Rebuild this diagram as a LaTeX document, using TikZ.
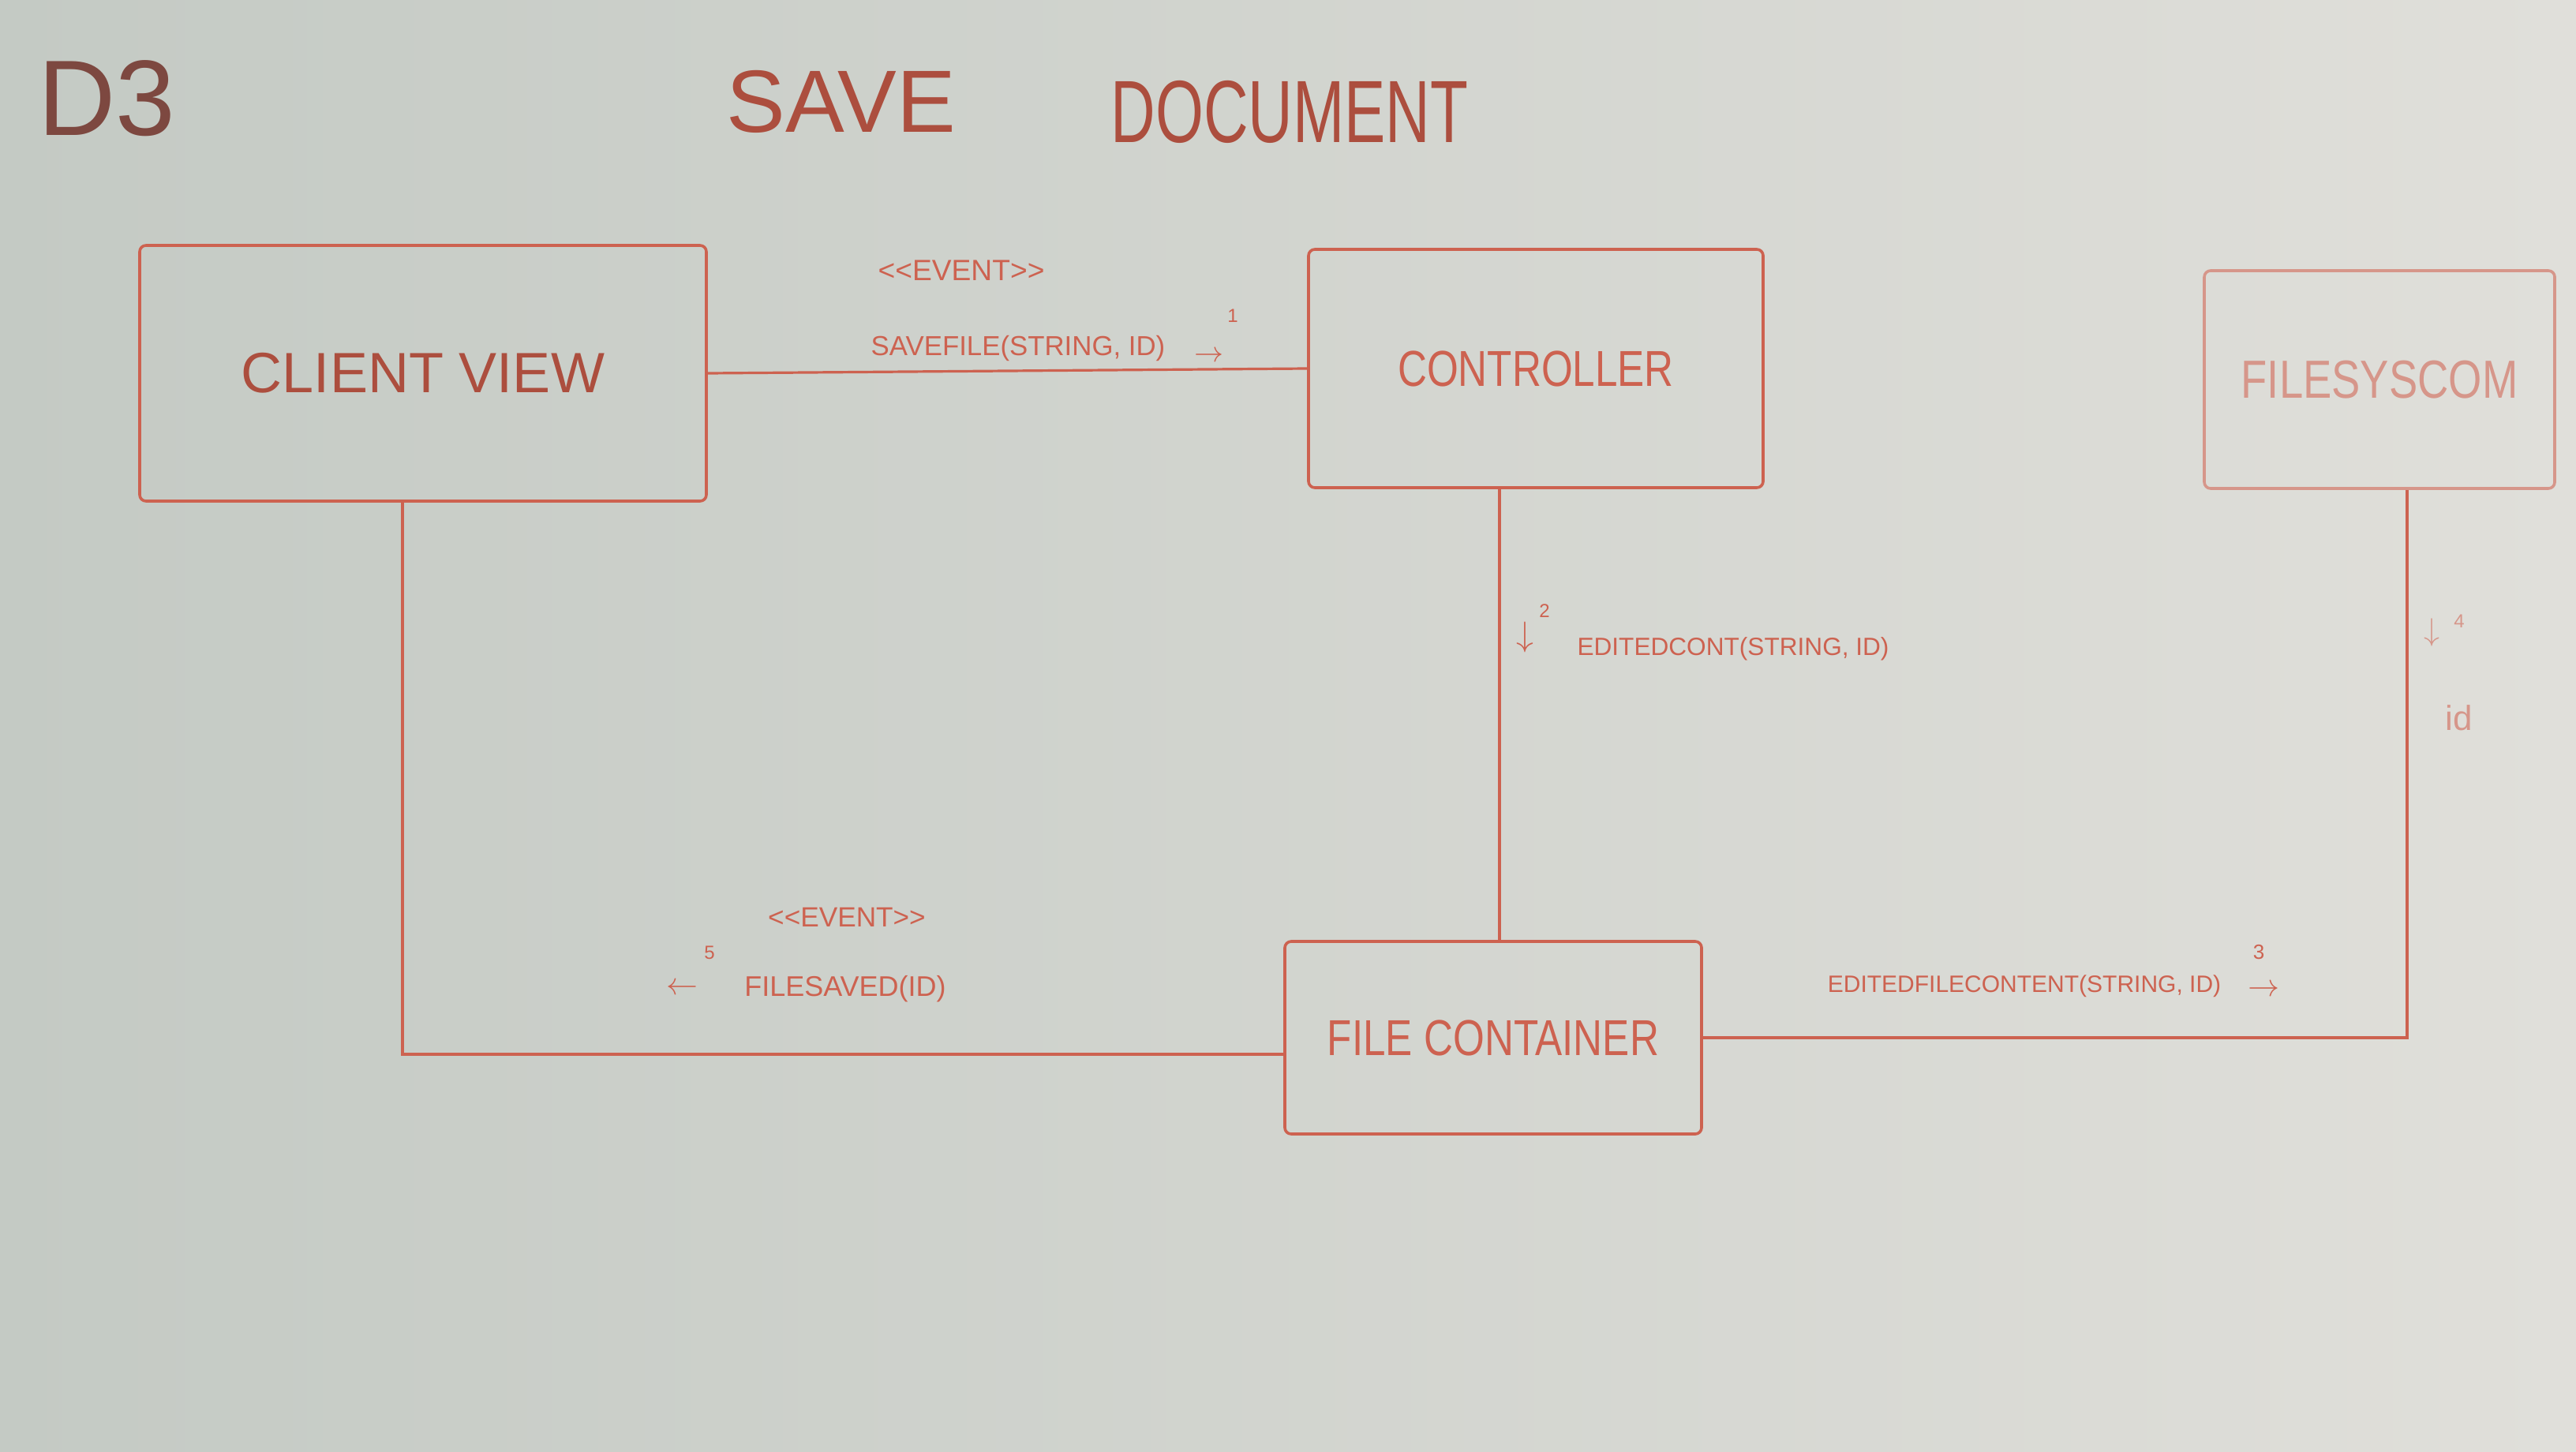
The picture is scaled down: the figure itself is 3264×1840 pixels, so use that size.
\documentclass[tikz,border=0pt]{standalone}
\usepackage{fontspec}
\setmainfont{Liberation Sans}
\newfontfamily\narrowhand[FakeStretch=0.8]{Liberation Sans}
\newfontfamily\narrowerhand[FakeStretch=0.7]{Liberation Sans}
\definecolor{board}{RGB}{196,202,196}
\definecolor{boardlight}{RGB}{224,223,218}
\definecolor{marker}{RGB}{205,98,80}
\definecolor{markerdark}{RGB}{172,78,62}
\definecolor{markerfaint}{RGB}{214,150,138}
\definecolor{ink}{RGB}{125,72,64}
\begin{document}
\begin{tikzpicture}[x=0.25pt,y=-0.25pt,
  box/.style={draw=marker, line width=0.9pt, rounded corners=2pt, inner sep=0pt},
  wire/.style={draw=marker, line width=0.8pt},
  lbl/.style={text=marker, inner sep=0pt},
  bigtext/.style={text=markerdark}
]
\path[use as bounding box] (0,0) rectangle (3264,1840);
\fill[left color=board, right color=boardlight] (0,0) rectangle (3264,1840);

% title
\node[text=ink, inner sep=0pt, font=\fontsize{34}{40}\selectfont] (d3) at (135,125) {D3};
\node[text=markerdark, inner sep=0pt, font=\fontsize{28}{32}\selectfont] (tsave) at (1066,129) {SAVE};
\node[text=markerdark, inner sep=0pt, font=\narrowerhand\fontsize{28}{32}\selectfont] (tdoc) at (1634,142) {DOCUMENT};

% boxes
\node[box, minimum width=179.5pt, minimum height=81pt, bigtext, font=\fontsize{18}{21}\selectfont] (cv) at (536,473) {CLIENT VIEW};
\node[box, minimum width=144pt, minimum height=75.5pt, text=marker, font=\narrowhand\fontsize{16}{19}\selectfont] (ctrl) at (1946,467) {CONTROLLER};
\node[box, draw=markerfaint, minimum width=111pt, minimum height=69pt, text=markerfaint, font=\narrowhand\fontsize{17}{20}\selectfont] (fsc) at (3015,481) {FILESYSCOM};
\node[box, minimum width=132pt, minimum height=61pt, text=marker, font=\narrowhand\fontsize{16}{19}\selectfont] (fc) at (1892,1315) {FILE CONTAINER};

% connectors
\draw[wire] (cv.east) -- (ctrl.west);
\draw[wire] ([xshift=-11.5pt]ctrl.south) -- ([xshift=-11.5pt]ctrl.south |- fc.north);
\draw[wire] (fc.east) -| ([xshift=8.75pt]fsc.south);
\draw[wire] ([yshift=-5.25pt]fc.west) -| ([xshift=-6.5pt]cv.south);

% labels: 1
\node[lbl, font=\fontsize{9.3}{11}\selectfont] (ev1) at (1218,343) {<{}<EVENT>{}>};
\node[lbl, font=\fontsize{8.7}{10}\selectfont] (m1) at (1290,441) {SAVEFILE(STRING, ID)};
\node[lbl, font=\fontsize{9}{10}\selectfont] (a1) at (1532,452) {$\rightarrow$};
\node[lbl, font=\fontsize{6}{7}\selectfont] (n1) at (1562,400) {1};

% labels: 2
\node[lbl, font=\fontsize{11}{12}\selectfont] (a2) at (1932,808) {$\downarrow$};
\node[lbl, font=\fontsize{6}{7}\selectfont] (n2) at (1957,774) {2};
\node[lbl, font=\fontsize{7.9}{9}\selectfont] (m2) at (2196,822) {EDITEDCONT(STRING, ID)};

% labels: 3
\node[lbl, font=\fontsize{7.5}{9}\selectfont] (m3) at (2565,1250) {EDITEDFILECONTENT(STRING, ID)};
\node[lbl, font=\fontsize{6.5}{7}\selectfont] (n3) at (2862,1207) {3};
\node[lbl, font=\fontsize{10}{11}\selectfont] (a3) at (2868,1255) {$\rightarrow$};

% labels: 4
\node[lbl, text=markerfaint, font=\fontsize{10}{11}\selectfont] (a4) at (3081,801) {$\downarrow$};
\node[lbl, text=markerfaint, font=\fontsize{6}{7}\selectfont] (n4) at (3116,787) {4};
\node[lbl, text=markerfaint, font=\fontsize{11}{12}\selectfont] (id4) at (3116,910) {id};

% labels: 5
\node[lbl, font=\fontsize{8.8}{10}\selectfont] (ev5) at (1073,1162) {<{}<EVENT>{}>};
\node[lbl, font=\fontsize{9}{10}\selectfont] (m5) at (1071,1253) {FILESAVED(ID)};
\node[lbl, font=\fontsize{10}{11}\selectfont] (a5) at (864,1253) {$\leftarrow$};
\node[lbl, font=\fontsize{6}{7}\selectfont] (n5) at (899,1207) {5};
\end{tikzpicture}
\end{document}
